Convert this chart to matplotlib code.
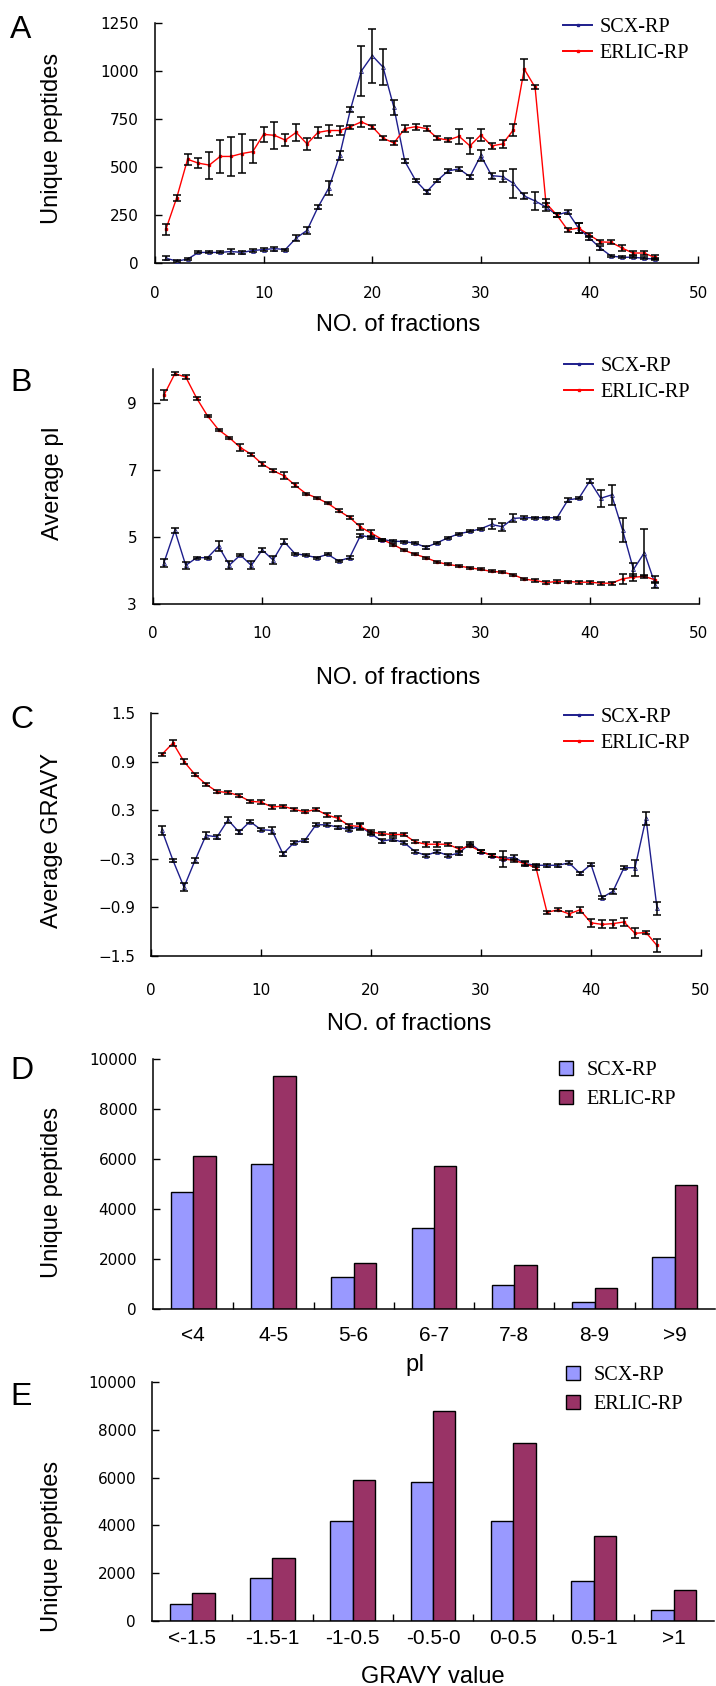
import matplotlib
matplotlib.use("Agg")
import matplotlib.pyplot as plt
import numpy as np
from matplotlib.font_manager import FontProperties

# ---------------- data ----------------
fractions = list(range(1, 47))

a_scx = [25, 10, 20, 55, 55, 55, 60, 55, 65, 70, 75, 70, 130, 170, 290, 390, 560, 800, 1000, 1080,
         1020, 810, 530, 430, 370, 430, 480, 490, 450, 560, 455, 450, 415, 349, 323, 292, 250, 266, 182, 130,
         78, 36, 30, 30, 25, 20]
a_scx_err = [10, 5, 5, 5, 5, 5, 15, 10, 10, 10, 10, 5, 15, 20, 10, 35, 25, 15, 130, 140,
             95, 40, 10, 10, 10, 10, 10, 10, 10, 30, 15, 30, 75, 15, 45, 20, 10, 10, 25, 10,
             10, 5, 5, 5, 5, 5]
a_erlic = [175, 340, 540, 520, 510, 555, 555, 570, 580, 670, 665, 640, 680, 620, 680, 690, 690, 710, 735, 710,
           650, 625, 700, 710, 700, 650, 640, 660, 610, 667, 610, 620, 693, 1010, 915, 312, 250, 172, 182, 146,
           110, 108, 78, 52, 52, 30]
a_erlic_err = [30, 15, 30, 25, 70, 85, 100, 100, 60, 40, 70, 30, 45, 30, 30, 30, 25, 10, 25, 10,
               10, 10, 20, 15, 15, 10, 10, 40, 40, 30, 15, 20, 30, 55, 10, 20, 10, 10, 25, 10,
               10, 10, 15, 10, 10, 10]

b_scx = [4.23, 5.19, 4.15, 4.38, 4.38, 4.72, 4.16, 4.46, 4.15, 4.61, 4.31, 4.86, 4.5, 4.45, 4.38, 4.48,
         4.28, 4.38, 5.04, 4.99, 4.92, 4.87, 4.86, 4.81, 4.69, 4.82, 4.97, 5.09, 5.16, 5.24, 5.37, 5.3,
         5.55, 5.57, 5.57, 5.57, 5.57, 6.1, 6.15, 6.66, 6.15, 6.25, 5.2, 4.03, 4.53, 3.57]
b_scx_err = [0.12, 0.08, 0.1, 0.03, 0.03, 0.15, 0.12, 0.04, 0.12, 0.05, 0.12, 0.08, 0.03, 0.03, 0.03, 0.03,
             0.03, 0.05, 0.05, 0.05, 0.03, 0.03, 0.03, 0.03, 0.05, 0.03, 0.03, 0.03, 0.03, 0.03, 0.15, 0.12,
             0.12, 0.05, 0.03, 0.03, 0.03, 0.05, 0.03, 0.05, 0.25, 0.3, 0.35, 0.2, 0.7, 0.1]
b_erlic = [9.22, 9.86, 9.76, 9.13, 8.6, 8.19, 7.95, 7.66, 7.46, 7.17, 6.97, 6.82, 6.54, 6.29, 6.16, 6.0,
           5.78, 5.58, 5.29, 5.11, 4.92, 4.77, 4.6, 4.48, 4.38, 4.25, 4.18, 4.13, 4.08, 4.03, 3.97, 3.95,
           3.87, 3.74, 3.7, 3.64, 3.67, 3.67, 3.65, 3.65, 3.62, 3.62, 3.75, 3.8, 3.82, 3.72]
b_erlic_err = [0.15, 0.05, 0.05, 0.05, 0.03, 0.03, 0.03, 0.1, 0.05, 0.05, 0.05, 0.1, 0.05, 0.03, 0.03, 0.03,
               0.05, 0.05, 0.08, 0.1, 0.03, 0.03, 0.03, 0.03, 0.03, 0.03, 0.03, 0.03, 0.03, 0.03, 0.03, 0.03,
               0.03, 0.03, 0.03, 0.05, 0.05, 0.03, 0.05, 0.05, 0.05, 0.05, 0.15, 0.1, 0.05, 0.1]

c_scx = [0.05, -0.32, -0.65, -0.32, -0.01, -0.03, 0.18, 0.03, 0.16, 0.06, 0.05, -0.24, -0.1, -0.07, 0.12,
         0.12, 0.09, 0.06, 0.1, 0.01, -0.08, -0.06, -0.1, -0.21, -0.26, -0.21, -0.26, -0.23, -0.11, -0.21,
         -0.26, -0.3, -0.28, -0.36, -0.38, -0.38, -0.38, -0.35, -0.48, -0.37, -0.78, -0.7, -0.41, -0.41,
         0.2, -0.91]
c_scx_err = [0.06, 0.02, 0.05, 0.03, 0.04, 0.02, 0.04, 0.02, 0.02, 0.02, 0.04, 0.02, 0.02, 0.02, 0.02,
             0.02, 0.02, 0.02, 0.04, 0.02, 0.02, 0.02, 0.02, 0.02, 0.02, 0.02, 0.02, 0.02, 0.02, 0.02,
             0.02, 0.1, 0.03, 0.03, 0.02, 0.02, 0.02, 0.02, 0.02, 0.02, 0.02, 0.03, 0.02, 0.1,
             0.08, 0.08]
c_erlic = [0.99, 1.13, 0.9, 0.74, 0.62, 0.53, 0.52, 0.48, 0.41, 0.4, 0.34, 0.35, 0.31, 0.28, 0.31,
           0.24, 0.2, 0.11, 0.1, 0.03, 0.01, 0.0, 0.0, -0.09, -0.12, -0.12, -0.12, -0.18, -0.14, -0.21,
           -0.26, -0.3, -0.32, -0.36, -0.41, -0.96, -0.93, -0.98, -0.93, -1.09, -1.11, -1.1, -1.08, -1.22,
           -1.21, -1.37]
c_erlic_err = [0.02, 0.04, 0.03, 0.02, 0.02, 0.02, 0.02, 0.02, 0.02, 0.02, 0.02, 0.02, 0.02, 0.02, 0.02,
               0.02, 0.03, 0.02, 0.03, 0.02, 0.02, 0.02, 0.02, 0.02, 0.03, 0.03, 0.02, 0.02, 0.02, 0.02,
               0.02, 0.02, 0.02, 0.02, 0.03, 0.02, 0.02, 0.04, 0.04, 0.05, 0.05, 0.05, 0.05, 0.06,
               0.02, 0.08]

pi_cats = ["<4", "4-5", "5-6", "6-7", "7-8", "8-9", ">9"]
pi_scx = [4670, 5810, 1290, 3230, 960, 290, 2090]
pi_erlic = [6130, 9320, 1830, 5730, 1760, 830, 4950]

gravy_cats = ["<-1.5", "-1.5-1", "-1-0.5", "-0.5-0", "0-0.5", "0.5-1", ">1"]
gravy_scx = [700, 1810, 4170, 5830, 4170, 1660, 470]
gravy_erlic = [1170, 2650, 5910, 8770, 7450, 3540, 1310]

series_names = ["SCX-RP", "ERLIC-RP"]

# ---------------- layout ----------------
W, H = 716, 1686
fig = plt.figure(figsize=(W / 100, H / 100), dpi=100)

BLUE = "#1e1e8c"
RED = "#ff0000"
TICKFONT = "DejaVu Sans"
LABFONT = "Liberation Sans"
leg_prop = FontProperties(family="Liberation Serif", size=14.5)


def ax_at(l, r, t, b):
    return fig.add_axes([l / W, 1 - b / H, (r - l) / W, (b - t) / H])


def style(ax, xpad, ypad=11.5):
    for s in ("top", "right"):
        ax.spines[s].set_visible(False)
    for s in ("left", "bottom"):
        ax.spines[s].set_linewidth(1.1)
    ax.tick_params(axis="both", direction="in", length=5, width=1.0, labelsize=11)
    ax.tick_params(axis="x", pad=xpad)
    ax.tick_params(axis="y", pad=ypad)
    for lab in ax.get_xticklabels() + ax.get_yticklabels():
        lab.set_family(TICKFONT)


def fig_text(x, y, s, **kw):
    fig.text(x / W, 1 - y / H, s, **kw)


def line_panel(ax, scx, scx_err, erl, erl_err, ylim, yticks, yticklabels, xpad, leg_x, leg_top):
    l1, = ax.plot(fractions, scx, color=BLUE, lw=1.0, marker="^", ms=2.8, mfc="white",
                  mec=BLUE, mew=0.6, zorder=3)
    l2, = ax.plot(fractions, erl, color=RED, lw=1.0, marker="s", ms=1.8, mfc=RED,
                  mec=RED, zorder=3)
    ax.errorbar(fractions, scx, yerr=scx_err, fmt="none", ecolor="black", elinewidth=1.1,
                capsize=2.7, capthick=1.1, zorder=4)
    ax.errorbar(fractions, erl, yerr=erl_err, fmt="none", ecolor="black", elinewidth=1.1,
                capsize=2.7, capthick=1.1, zorder=4)
    ax.set_xlim(0, 50)
    ax.set_xticks([0, 10, 20, 30, 40, 50])
    ax.set_ylim(*ylim)
    ax.set_yticks(yticks)
    ax.set_yticklabels(yticklabels)
    style(ax, xpad)
    h1 = plt.Line2D([], [], color=BLUE, lw=1.4, marker="s", ms=2, mfc=BLUE, mec=BLUE)
    h2 = plt.Line2D([], [], color=RED, lw=1.4, marker="s", ms=2, mfc=RED, mec=RED)
    ax.legend([h1, h2], series_names, loc="upper left",
              bbox_to_anchor=(leg_x / W, 1 - leg_top / H), bbox_transform=fig.transFigure,
              frameon=False, prop=leg_prop, handlelength=1.45, handletextpad=0.35,
              labelspacing=0.32, borderpad=0, borderaxespad=0, numpoints=1)


def bar_panel(ax, cats, scx, erl, xpad, leg_x, leg_top, lspace):
    idx = np.arange(len(cats))
    bw = 0.28
    b1 = ax.bar(idx + 0.5 - bw / 2, scx, width=bw, color="#9999ff", edgecolor="black", lw=1.0)
    b2 = ax.bar(idx + 0.5 + bw / 2, erl, width=bw, color="#993366", edgecolor="black", lw=1.0)
    ax.set_xlim(0, len(cats))
    ax.set_ylim(0, 10000)
    ax.set_yticks(range(0, 10001, 2000))
    ax.set_xticks(range(1, len(cats)))
    ax.set_xticklabels([])
    ax.set_xticks(idx + 0.5, minor=True)
    ax.set_xticklabels(cats, minor=True, fontsize=15, family=LABFONT)
    style(ax, xpad)
    ax.tick_params(axis="x", which="minor", length=0, pad=xpad)
    ax.legend([b1, b2], series_names, loc="upper left",
              bbox_to_anchor=(leg_x / W, 1 - leg_top / H), bbox_transform=fig.transFigure,
              frameon=False, prop=leg_prop, handlelength=0.7, handleheight=0.7,
              handletextpad=0.65, labelspacing=lspace, borderpad=0, borderaxespad=0)


# Panel A
axA = ax_at(155, 698, 23, 263)
line_panel(axA, a_scx, a_scx_err, a_erlic, a_erlic_err, (0, 1250),
           [0, 250, 500, 750, 1000, 1250], ["0", "250", "500", "750", "1000", "1250"],
           16.5, 563, 18)

# Panel B
axB = ax_at(153, 699, 369, 604)
line_panel(axB, b_scx, b_scx_err, b_erlic, b_erlic_err, (3, 10),
           [3, 5, 7, 9], ["3", "5", "7", "9"], 16, 564, 357)

# Panel C
axC = ax_at(151, 701, 713, 956)
line_panel(axC, c_scx, c_scx_err, c_erlic, c_erlic_err, (-1.5, 1.5),
           [-1.5, -0.9, -0.3, 0.3, 0.9, 1.5], ["\u22121.5", "\u22120.9", "\u22120.3", "0.3", "0.9", "1.5"],
           19.5, 564, 708)

# Panel D
axD = ax_at(153, 715, 1059, 1309)
bar_panel(axD, pi_cats, pi_scx, pi_erlic, 12.5, 559, 1061, 0.5)

# Panel E
axE = ax_at(152, 714, 1382, 1621)
bar_panel(axE, gravy_cats, gravy_scx, gravy_erlic, 5.5, 566, 1366, 0.5)

# axis labels
lab_kw = dict(family=LABFONT, fontsize=17, ha="center", va="center")
fig_text(398, 325, "NO. of fractions", **lab_kw)
fig_text(398, 678, "NO. of fractions", **lab_kw)
fig_text(409, 1024, "NO. of fractions", **lab_kw)
fig_text(415, 1365, "pI", **lab_kw)
fig_text(433, 1677, "GRAVY value", **lab_kw)

fig_text(52, 138, "Unique peptides", rotation=90, **lab_kw)
fig_text(53, 483, "Average pI", rotation=90, **lab_kw)
fig_text(52, 840, "Average GRAVY", rotation=90, **lab_kw)
fig_text(52, 1192, "Unique peptides", rotation=90, **lab_kw)
fig_text(52, 1546, "Unique peptides", rotation=90, **lab_kw)

# panel letters
let_kw = dict(family=LABFONT, fontsize=23, ha="left", va="center")
for letter, y in zip("ABCDE", [30, 383, 720, 1071, 1397]):
    fig_text(10, y, letter, **let_kw)

fig.savefig("out.png", dpi=100, facecolor="white")
